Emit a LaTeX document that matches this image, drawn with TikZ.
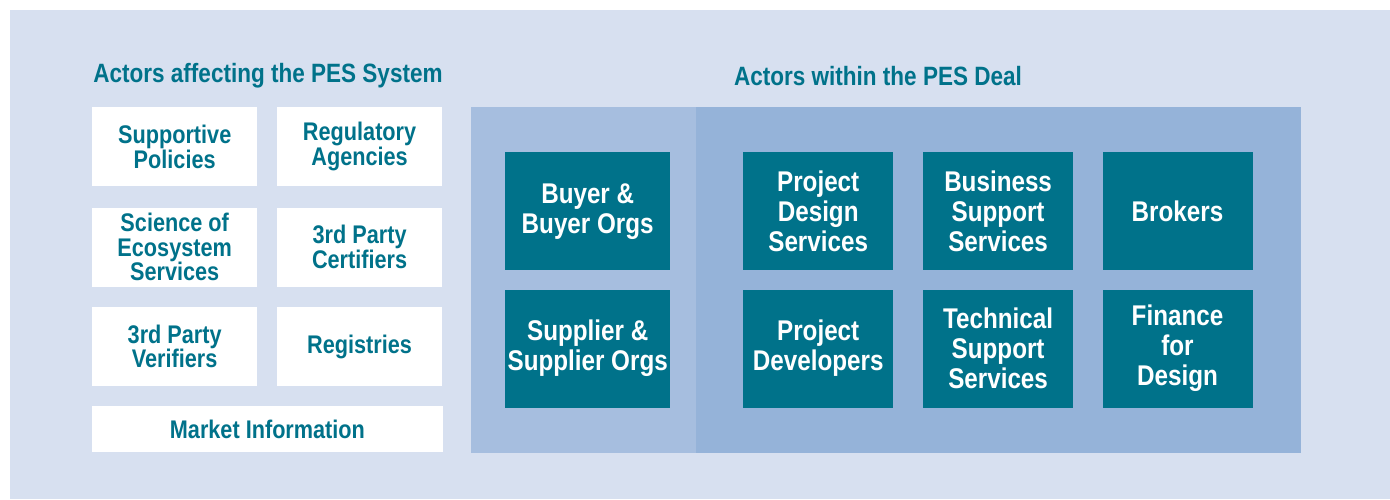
\documentclass[tikz,border=0pt]{standalone}
\usepackage{fontspec}
\setmainfont{Liberation Sans}[FakeStretch=0.85]
\usetikzlibrary{positioning}
\definecolor{pesbg}{HTML}{D7E0F0}
\definecolor{dealleft}{HTML}{A6BEDF}
\definecolor{dealright}{HTML}{95B3D9}
\definecolor{pesteal}{HTML}{00728A}

\begin{document}
\begin{tikzpicture}[x=1pt, y=-1pt,
                heading/.style={font=\fontsize{26.5}{26.5}\selectfont\bfseries, text=pesteal},
                affect/.style={fill=white, minimum width=165pt, minimum height=79pt, inner sep=0pt, align=center, font=\fontsize{25.5}{24.5}\selectfont\bfseries, text=pesteal},
                actor/.style={fill=pesteal, minimum width=150pt, minimum height=118pt, inner sep=0pt, align=center, font=\fontsize{28.5}{30}\selectfont\bfseries, text=white},
            ]
                \useasboundingbox (0,0) rectangle (1390,499);
                \fill[pesbg] (10,10) rectangle (1390,499);

                % Actors affecting the system
                \node[heading] (affecttitle) at (268,76) {Actors affecting the PES System};
                \node[affect, anchor=north west] (supp) at (92,107) {Supportive\\Policies};
                \node[affect, right=19.5pt of supp] (reg) {Regulatory\\Agencies};
                \node[affect, below=21pt of supp] (sci) {Science of\\Ecosystem\\Services};
                \node[affect, below=21pt of reg] (cert) {3rd Party\\Certifiers};
                \node[affect, below=20pt of sci] (verif) {3rd Party\\Verifiers};
                \node[affect, below=20pt of cert] (regis) {Registries};
                \node[affect, minimum width=350.5pt, minimum height=46pt, below right=20pt and 0pt of verif.south west] (market) {Market Information};

                % Actors within the deal
                \node[heading] (dealtitle) at (878,76) {Actors within the PES Deal};
                \fill[dealleft] (471,107) rectangle (696,453);
                \fill[dealright] (696,107) rectangle (1301,453);

                \node[actor, anchor=north west, minimum width=165pt] (buyer) at (505,152) {Buyer \&\\Buyer Orgs};
                \node[actor, minimum width=165pt, below=19pt of buyer] (supplier) {Supplier \&\\Supplier Orgs};

                \node[actor, anchor=north west] (design) at (743,152) {Project\\Design\\Services};
                \node[actor, right=29.5pt of design] (business) {Business\\Support\\Services};
                \node[actor, right=29pt of business] (brokers) {Brokers};
                \node[actor, below=19pt of design] (devel) {Project\\Developers};
                \node[actor, below=19pt of business] (technical) {Technical\\Support\\Services};
                \node[actor, below=19pt of brokers] (finance) {Finance\\for\\Design};
            \end{tikzpicture}
\end{document}
